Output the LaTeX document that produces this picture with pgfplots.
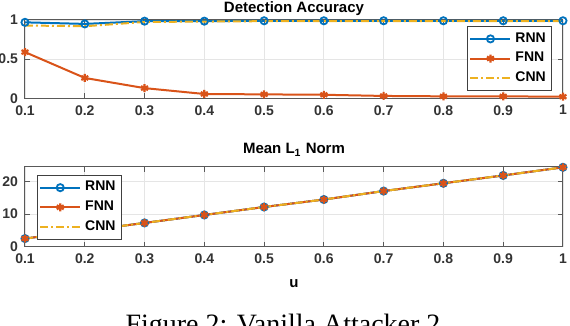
\documentclass[border=0pt]{standalone}
\usepackage{fontspec}
\setmainfont{Liberation Sans}
\newfontfamily\capfont{Liberation Serif}
\usepackage{pgfplots}
\pgfplotsset{compat=1.18}

\definecolor{mblue}{rgb}{0,0.447,0.741}
\definecolor{mred}{rgb}{0.85,0.325,0.098}
\definecolor{myellow}{rgb}{0.929,0.694,0.125}

\pgfplotsset{
  mstyle/.style={
    scale only axis,
    width=269pt,
    xmin=0.1, xmax=1,
    xtick={0.1,0.2,0.3,0.4,0.5,0.6,0.7,0.8,0.9,1},
    grid=major,
    major grid style={black!10, line width=0.4pt},
    axis line style={black!65, line width=0.5pt},
    tick style={black!65, line width=0.5pt},
    tick align=inside,
    major tick length=2.5pt,
    ticklabel style={font=\fontsize{7}{8}\selectfont\bfseries, text=black!80},
    /pgf/number format/assume math mode=true,
    legend style={font=\fontsize{7}{8.5}\selectfont\bfseries, draw=black!75,
      line width=0.4pt, inner sep=1pt, row sep=-0.5pt},
    legend cell align=left,
    legend image code/.code={
      \draw[mark repeat=2, mark phase=2] plot coordinates {(0pt,0pt) (10pt,0pt) (20pt,0pt)};},
  },
  rnn/.style={mblue, line width=1pt, mark=o, mark size=1.8pt, mark options={solid, line width=0.9pt}},
  fnn/.style={mred, line width=1pt, mark=asterisk, mark size=2pt, mark options={solid, line width=1.1pt}},
  cnn/.style={myellow, line width=1pt, dash pattern=on 4pt off 1.5pt on 1pt off 1.5pt},
}

\begin{document}
\begin{tikzpicture}
\clip (0pt,0pt) rectangle (285pt,163pt);

\begin{axis}[mstyle,
  at={(12.5pt,113.85pt)}, anchor=south west,
  height=39.15pt,
  ymin=0, ymax=1, ytick={0,0.5,1},
  legend style={at={(0.98,0.093)}, anchor=south east},
]
\addplot[rnn] coordinates {
(0.1,0.97) (0.2,0.95) (0.3,0.985) (0.4,0.985) (0.5,0.99)
(0.6,0.99) (0.7,0.99) (0.8,0.99) (0.9,0.99) (1,0.99)};
\addlegendentry{RNN}
\addplot[fnn] coordinates {
(0.1,0.59) (0.2,0.26) (0.3,0.13) (0.4,0.055) (0.5,0.05)
(0.6,0.045) (0.7,0.03) (0.8,0.025) (0.9,0.025) (1,0.02)};
\addlegendentry{FNN}
\addplot[cnn] coordinates {
(0.1,0.93) (0.2,0.92) (0.3,0.975) (0.4,0.98) (0.5,0.985)
(0.6,0.985) (0.7,0.985) (0.8,0.985) (0.9,0.985) (1,0.985)};
\addlegendentry{CNN}
\end{axis}

\begin{axis}[mstyle,
  at={(12.5pt,39.65pt)}, anchor=south west,
  height=39.85pt,
  ymin=0, ymax=24.5, ytick={0,10,20},
  legend style={at={(0.022,0.9)}, anchor=north west},
]
\addplot[rnn] coordinates {
(0.1,2.5) (0.2,4.9) (0.3,7.3) (0.4,9.75) (0.5,12.2)
(0.6,14.5) (0.7,17.1) (0.8,19.5) (0.9,21.9) (1,24.4)};
\addlegendentry{RNN}
\addplot[fnn] coordinates {
(0.1,2.5) (0.2,4.9) (0.3,7.3) (0.4,9.75) (0.5,12.2)
(0.6,14.5) (0.7,17.1) (0.8,19.5) (0.9,21.9) (1,24.4)};
\addlegendentry{FNN}
\addplot[cnn] coordinates {
(0.1,2.5) (0.2,4.9) (0.3,7.3) (0.4,9.75) (0.5,12.2)
(0.6,14.5) (0.7,17.1) (0.8,19.5) (0.9,21.9) (1,24.4)};
\addlegendentry{CNN}
\end{axis}

\node[anchor=base, font=\fontsize{7.5}{9}\selectfont\bfseries] at (147pt,156.5pt) {Detection Accuracy};
\node[anchor=base, font=\fontsize{7.5}{9}\selectfont\bfseries] at (147pt,86pt) {Mean L\textsubscript{1} Norm};
\node[anchor=base, font=\fontsize{7.5}{9}\selectfont\bfseries] at (147pt,19pt) {u};
\node[anchor=base, font=\capfont\fontsize{14}{16}\selectfont] at (141.5pt,-3.75pt) {Figure 2: Vanilla Attacker 2};
\end{tikzpicture}
\end{document}
